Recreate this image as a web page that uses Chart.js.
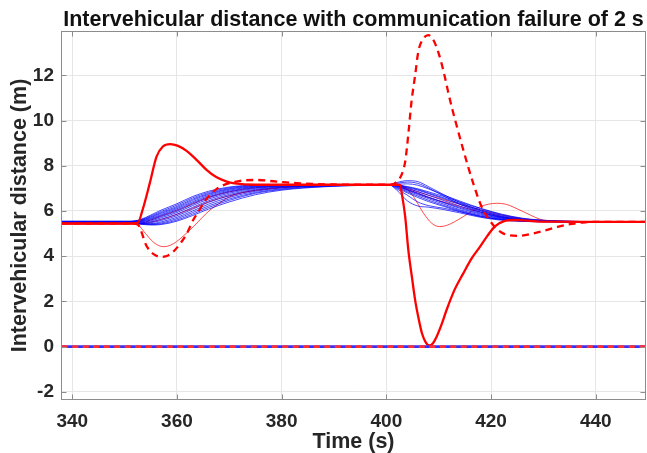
<!DOCTYPE html>
<html><head><meta charset="utf-8">
<script src="https://cdn.jsdelivr.net/npm/chart.js@4/dist/chart.umd.min.js"></script>
<style>html,body{margin:0;padding:0;background:#fff;}canvas{display:block;}</style>
</head><body>
<canvas id="c" width="647" height="453"></canvas>
<script>
const titleText = 'Intervehicular distance with communication failure of 2 s';
const xLabel = 'Time (s)';
const yLabel = 'Intervehicular distance (m)';
const xTicks = [340, 360, 380, 400, 420, 440];
const yTicks = [-2, 0, 2, 4, 6, 8, 10, 12];
const xRange = [337.85, 449.6];
const yRange = [-2.36, 13.96];

// shared time grid for the follower (blue) vehicles
const tBlue = [338, 351, 353, 355, 357, 360, 363, 366, 370, 375, 380, 388, 395, 400.5, 402, 404, 406, 408, 411, 414, 418, 422, 426, 430, 436, 442, 450];
const blue1  = [5.55,5.55,5.62,5.82,6.04,6.32,6.64,6.87,7.06,7.15,7.17,7.17,7.17,7.16,7.26,7.34,7.30,7.08,6.72,6.38,6.02,5.76,5.62,5.56,5.53,5.52,5.52];
const blue2  = [5.54,5.54,5.60,5.78,5.98,6.26,6.58,6.82,7.03,7.14,7.16,7.17,7.17,7.16,7.22,7.28,7.22,7.02,6.66,6.30,5.95,5.72,5.60,5.55,5.53,5.52,5.52];
const blue3  = [5.53,5.53,5.58,5.74,5.93,6.20,6.52,6.77,6.99,7.12,7.15,7.17,7.17,7.16,6.92,6.45,6.22,6.17,6.06,5.92,5.72,5.59,5.54,5.52,5.52,5.52,5.52];
const blue4  = [5.53,5.53,5.57,5.71,5.89,6.15,6.47,6.73,6.96,7.10,7.14,7.16,7.17,7.16,7.10,6.95,6.80,6.62,6.36,6.12,5.86,5.68,5.58,5.54,5.52,5.52,5.52];
const blue5  = [5.52,5.52,5.55,5.67,5.84,6.10,6.41,6.68,6.92,7.08,7.13,7.16,7.17,7.16,7.15,7.06,6.95,6.80,6.58,6.34,6.05,5.80,5.64,5.57,5.53,5.52,5.52];
const blue6  = [5.52,5.52,5.54,5.64,5.80,6.05,6.36,6.63,6.88,7.06,7.12,7.16,7.17,7.16,7.08,6.90,6.72,6.55,6.30,6.06,5.82,5.66,5.57,5.54,5.52,5.52,5.52];
const blue7  = [5.51,5.51,5.52,5.60,5.75,5.99,6.30,6.58,6.84,7.03,7.11,7.15,7.16,7.16,7.12,7.00,6.86,6.70,6.46,6.22,5.94,5.72,5.60,5.55,5.53,5.52,5.52];
const blue8  = [5.51,5.51,5.50,5.56,5.70,5.93,6.24,6.52,6.79,7.00,7.09,7.14,7.16,7.16,7.05,6.85,6.66,6.48,6.24,6.02,5.78,5.63,5.56,5.53,5.52,5.52,5.52];
const blue9  = [5.50,5.50,5.48,5.52,5.64,5.86,6.16,6.45,6.73,6.96,7.07,7.13,7.16,7.16,7.13,7.03,6.92,6.77,6.54,6.30,6.00,5.76,5.62,5.56,5.53,5.52,5.52];
const blue10 = [5.50,5.50,5.46,5.48,5.58,5.79,6.08,6.38,6.67,6.92,7.05,7.12,7.15,7.16,7.10,6.93,6.76,6.60,6.38,6.16,5.90,5.70,5.59,5.55,5.53,5.52,5.52];
const blue11 = [5.50,5.50,5.45,5.44,5.52,5.72,6.00,6.30,6.60,6.87,7.02,7.11,7.15,7.16,7.18,7.20,7.14,6.98,6.70,6.44,6.12,5.86,5.68,5.59,5.54,5.52,5.52];
const blue12 = [5.49,5.49,5.44,5.42,5.47,5.66,5.93,6.22,6.53,6.82,6.98,7.10,7.14,7.16,7.02,6.80,6.60,6.42,6.20,5.98,5.75,5.62,5.56,5.53,5.52,5.52,5.52];
const blue13 = [5.49,5.49,5.43,5.40,5.43,5.60,5.86,6.15,6.47,6.78,6.95,7.08,7.14,7.16,7.14,7.08,6.98,6.85,6.64,6.40,6.10,5.84,5.66,5.58,5.54,5.52,5.52];
const blue14 = [5.48,5.48,5.42,5.38,5.40,5.55,5.80,6.08,6.40,6.72,6.92,7.07,7.13,7.16,6.98,6.70,6.40,6.24,6.12,5.97,5.76,5.62,5.55,5.53,5.52,5.52,5.52];
const redThinB = [5.42,5.42,5.45,5.60,5.78,6.02,6.32,6.60,6.85,7.03,7.10,7.14,7.16,7.16,7.14,7.00,6.85,6.70,6.50,6.30,6.05,5.82,5.66,5.58,5.54,5.52,5.52];
const redThinC = [5.42,5.42,5.42,5.50,5.62,5.85,6.12,6.40,6.68,6.92,7.04,7.12,7.15,7.16,7.12,6.96,6.78,6.60,6.40,6.20,5.95,5.74,5.60,5.55,5.52,5.52,5.52];

// second vehicle (thin red with dips)
const tRedA = [338, 351, 352.5, 354, 355.5, 357.4, 358.7, 359.9, 361.5, 363.1, 364.7, 366.3, 368, 369.5, 372, 375.9, 382.2, 390, 400.5, 402.6, 404, 405.2, 407.1, 408.7, 410.2, 411.5, 413, 414.7, 416.3, 417.9, 419.5, 421.1, 422.8, 424.2, 425.5, 427.5, 429.4, 431.5, 433.8, 440, 450];
const redThinA = [5.42,5.42,5.38,5.00,4.62,4.42,4.48,4.64,4.95,5.30,5.68,6.04,6.32,6.56,6.78,6.93,7.07,7.14,7.16,7.15,6.95,6.63,5.90,5.45,5.31,5.36,5.52,5.75,5.98,6.19,6.30,6.34,6.30,6.18,6.04,5.82,5.63,5.56,5.53,5.52,5.52];

// vehicle with communication failure (thick solid red)
const tRedSolid = [338, 351, 352.5, 353.5, 354.8, 356.1, 357.3, 358.7, 360.2, 361.9, 363.8, 365.7, 367.5, 369.5, 371, 375, 385, 395, 401.5, 402.6, 403.0, 403.6, 404.2, 404.9, 405.5, 406.2, 406.8, 407.5, 408.2, 408.9, 409.6, 410.5, 411.5, 413, 414.7, 416.3, 417.9, 419.3, 420.8, 422.5, 424.5, 427, 430, 440, 450];
const redSolid = [5.45,5.45,5.47,6.10,7.22,8.40,8.85,8.96,8.88,8.65,8.25,7.81,7.50,7.30,7.22,7.16,7.16,7.16,7.16,7.15,6.70,5.75,4.27,3.05,2.06,1.20,0.59,0.20,0.05,0.15,0.44,0.95,1.62,2.50,3.24,3.90,4.42,4.90,5.33,5.55,5.60,5.57,5.53,5.52,5.52];

// following vehicle (thick dashed red)
const tRedDash = [338, 351, 352.5, 354.2, 355.6, 357.1, 358.3, 359.3, 360.6, 361.9, 363.1, 364.2, 365.2, 367.6, 371.4, 375.2, 379, 383.5, 390, 401, 402.2, 402.9, 403.6, 404.2, 404.8, 405.5, 406.1, 407, 408, 408.9, 409.9, 410.9, 411.8, 412.6, 413.4, 414.7, 416.6, 418.2, 420.4, 422.3, 425.2, 428.7, 432.5, 435.1, 438, 442, 450];
const redDash = [5.45,5.45,5.40,4.45,4.08,3.97,4.03,4.20,4.55,5.01,5.60,6.00,6.40,6.98,7.30,7.37,7.30,7.22,7.17,7.16,7.35,7.60,8.18,9.40,10.83,12.00,13.04,13.60,13.78,13.60,13.04,12.20,11.27,10.50,9.80,8.70,7.22,6.19,5.38,5.01,4.90,5.04,5.28,5.42,5.50,5.52,5.52];

// zero reference lines
const tZero = [338, 450];
const zeroLine = [0, 0];

const pts = (t, v) => t.map((x, i) => ({x: x, y: v[i]}));
const FONT = "'Liberation Sans', Arial, Helvetica, sans-serif";

const blues = [blue1, blue2, blue3, blue4, blue5, blue6, blue7, blue8, blue9, blue10, blue11, blue12, blue13, blue14];
const datasets = [];
datasets.push({data: pts(tZero, zeroLine), borderColor: '#ff3030', borderWidth: 2.6, borderDash: [6, 4.5], order: 0});
datasets.push({data: pts(tZero, zeroLine), borderColor: '#3030ff', borderWidth: 2.6, order: 1});
datasets.push({data: pts(tRedDash, redDash), borderColor: '#ff0000', borderWidth: 2.3, borderDash: [7, 5], order: 2});
datasets.push({data: pts(tRedSolid, redSolid), borderColor: '#ff0000', borderWidth: 2.3, order: 3});
blues.forEach(b => datasets.push({data: pts(tBlue, b), borderColor: 'rgba(0,0,255,0.8)', borderWidth: 0.9, order: 4}));
datasets.push({data: pts(tRedA, redThinA), borderColor: 'rgba(255,0,0,0.7)', borderWidth: 1, order: 5});
datasets.push({data: pts(tBlue, redThinB), borderColor: 'rgba(255,0,0,0.7)', borderWidth: 1, order: 5});
datasets.push({data: pts(tBlue, redThinC), borderColor: 'rgba(255,0,0,0.7)', borderWidth: 1, order: 5});

const axesBox = {
  id: 'axesBox',
  afterDraw(chart) {
    const {ctx, chartArea: a, scales: {x, y}} = chart;
    ctx.save();
    ctx.strokeStyle = '#8c8c8c';
    ctx.lineWidth = 1;
    const L = Math.round(a.left) + 0.5, R = Math.round(a.right) - 0.5;
    const T = Math.round(a.top) + 0.5, B = Math.round(a.bottom) - 0.5;
    ctx.strokeRect(L, T, R - L, B - T);
    const len = 5;
    ctx.beginPath();
    xTicks.forEach(v => {
      const px = Math.round(x.getPixelForValue(v)) + 0.5;
      ctx.moveTo(px, B); ctx.lineTo(px, B - len);
      ctx.moveTo(px, T); ctx.lineTo(px, T + len);
    });
    yTicks.forEach(v => {
      const py = Math.round(y.getPixelForValue(v)) + 0.5;
      ctx.moveTo(L, py); ctx.lineTo(L + len, py);
      ctx.moveTo(R, py); ctx.lineTo(R - len, py);
    });
    ctx.stroke();
    ctx.restore();
  }
};

new Chart(document.getElementById('c'), {
  type: 'line',
  data: {datasets: datasets},
  plugins: [axesBox],
  options: {
    responsive: false,
    animation: false,
    devicePixelRatio: 1,
    layout: {padding: {left: 0, right: 1, top: 0, bottom: 0}},
    elements: {point: {radius: 0}, line: {cubicInterpolationMode: 'monotone', fill: false}},
    plugins: {
      legend: {display: false},
      tooltip: {enabled: false},
      title: {
        display: true, text: titleText, fullSize: false, color: '#111',
        font: {family: FONT, size: 21.5, weight: 'bold', lineHeight: 1.0},
        padding: {top: 9.5, bottom: 0}
      }
    },
    scales: {
      x: {
        type: 'linear', min: xRange[0], max: xRange[1],
        afterBuildTicks: s => { s.ticks = xTicks.map(v => ({value: v})); },
        afterFit: s => { s.height = 53; s.paddingLeft = 0; s.paddingRight = 0; },
        grid: {color: '#e6e6e6', drawTicks: false},
        border: {display: false},
        ticks: {color: '#262626', padding: 10, maxRotation: 0, autoSkip: false,
                font: {family: FONT, size: 19, weight: 'bold'}, callback: v => String(v)},
        title: {display: true, text: xLabel, color: '#262626', padding: {top: 0, bottom: 0},
                font: {family: FONT, size: 21.5, weight: 'bold', lineHeight: 1.0}}
      },
      y: {
        type: 'linear', min: yRange[0], max: yRange[1],
        afterBuildTicks: s => { s.ticks = yTicks.map(v => ({value: v})); },
        afterFit: s => { s.width = 61; s.paddingTop = 0; s.paddingBottom = 0; },
        grid: {color: '#e6e6e6', drawTicks: false},
        border: {display: false},
        ticks: {color: '#262626', padding: 7, autoSkip: false,
                font: {family: FONT, size: 19, weight: 'bold'}, callback: v => String(v)},
        title: {display: true, text: yLabel, color: '#262626', padding: {top: 7, bottom: 0},
                font: {family: FONT, size: 21.5, weight: 'bold', lineHeight: 1.2}}
      }
    }
  }
});
</script>
</body></html>
